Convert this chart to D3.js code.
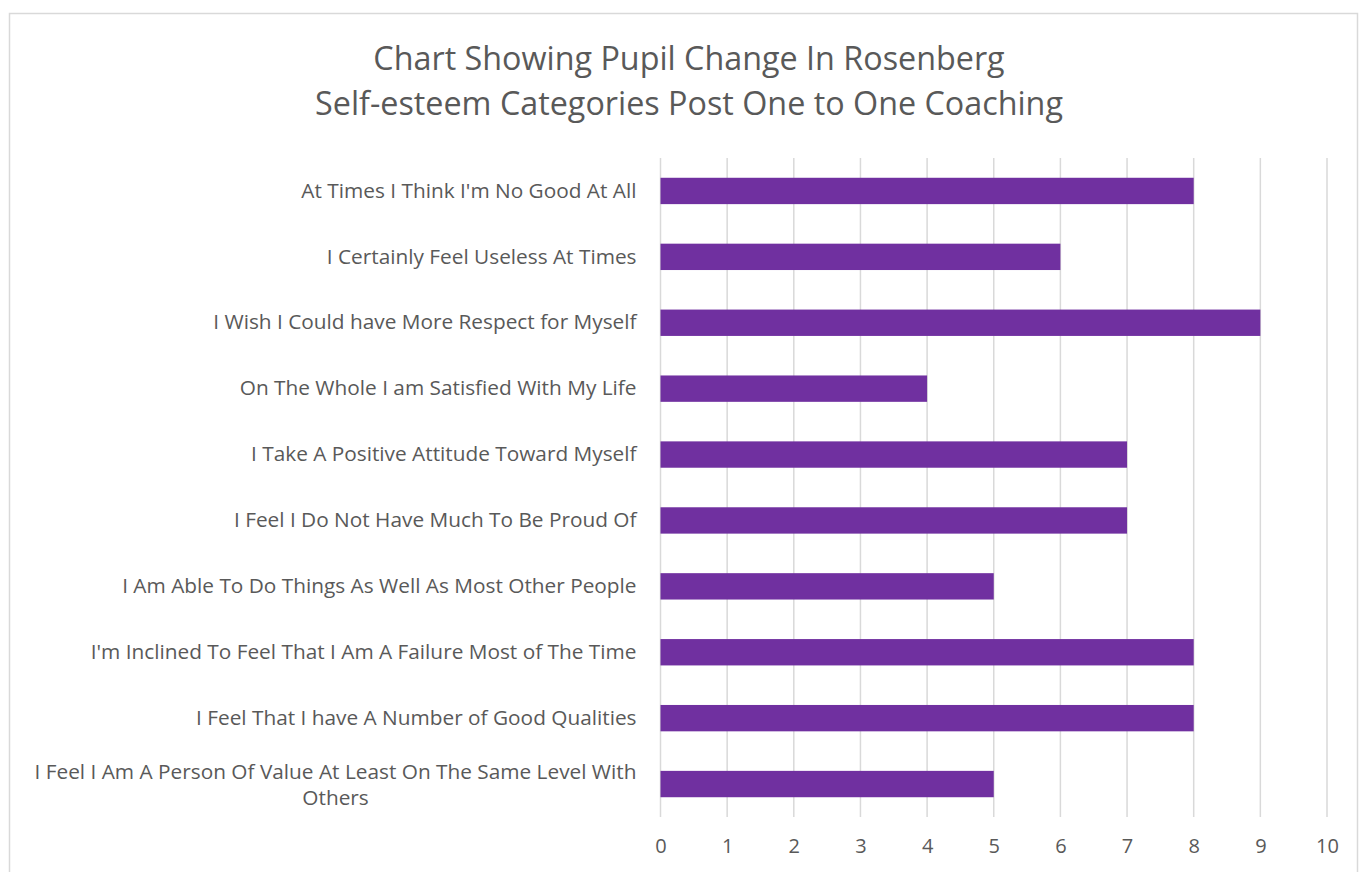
<!DOCTYPE html>
<html>
<head>
<meta charset="utf-8">
<script src="https://cdn.jsdelivr.net/npm/d3@7"></script>
<style>
  body { margin: 0; background: #fff; }
  svg { display: block; font-family: "Open Sans", sans-serif; }
</style>
</head>
<body>
<div id="chart"></div>
<script>
const categories = [
  "At Times I Think I'm No Good At All",
  "I Certainly Feel Useless At Times",
  "I Wish I Could have More Respect for Myself",
  "On The Whole I am Satisfied With My Life",
  "I Take A Positive Attitude Toward Myself",
  "I Feel I Do Not Have Much To Be Proud Of",
  "I Am Able To Do Things As Well As Most Other People",
  "I'm Inclined To Feel That I Am A Failure Most of The Time",
  "I Feel That I have A Number of Good Qualities",
  "I Feel I Am A Person Of Value At Least On The Same Level With Others"
];
const values = [8, 6, 9, 4, 7, 7, 5, 8, 8, 5];
const xTicks = [0, 1, 2, 3, 4, 5, 6, 7, 8, 9, 10];
const titleLines = [
  "Chart Showing Pupil Change In Rosenberg",
  "Self-esteem Categories Post One to One Coaching"
];

const width = 1359;
const height = 872;
const margin = { top: 158, right: 32, bottom: 55, left: 660.5 };
const innerWidth = 1327 - margin.left;
const innerHeight = 817 - margin.top;

const data = categories.map((c, i) => ({ label: c, value: values[i] }));

const svg = d3.select('#chart')
  .append('svg')
  .attr('width', width)
  .attr('height', height);

// chart border: left, top and right edges (bottom is off the page)
svg.append('path')
  .attr('d', `M9.5,${height}V13.5H1357.5V${height}`)
  .attr('fill', 'none')
  .attr('stroke', '#d9d9d9')
  .attr('stroke-width', 1.5);

svg.append('text')
  .attr('x', 689)
  .attr('text-anchor', 'middle')
  .attr('font-size', '32.3px')
  .attr('fill', '#595959')
  .selectAll('tspan')
  .data(titleLines)
  .enter()
  .append('tspan')
  .attr('x', 689)
  .attr('y', (d, i) => 70 + i * 45)
  .text(d => d);

const g = svg.append('g')
  .attr('transform', `translate(${margin.left},${margin.top})`);

const xScale = d3.scaleLinear()
  .domain([0, 10])
  .range([0, innerWidth]);

const yScale = d3.scaleBand()
  .domain(categories)
  .range([0, innerHeight])
  .paddingInner(0.6)
  .paddingOuter(0.3);

// vertical gridlines
g.selectAll('.grid')
  .data(xTicks)
  .enter()
  .append('line')
  .attr('x1', d => xScale(d))
  .attr('x2', d => xScale(d))
  .attr('y1', 0)
  .attr('y2', innerHeight)
  .attr('stroke', '#d9d9d9')
  .attr('stroke-width', 1.5);

g.selectAll('.bar')
  .data(data)
  .enter()
  .append('rect')
  .attr('class', 'bar')
  .attr('x', xScale(0))
  .attr('y', d => yScale(d.label))
  .attr('width', d => xScale(d.value) - xScale(0))
  .attr('height', yScale.bandwidth())
  .attr('fill', '#7030a0');

// x axis labels
const xAxis = g.append('g')
  .attr('transform', `translate(0,${innerHeight})`)
  .call(d3.axisBottom(xScale).tickValues(xTicks).tickSize(0).tickPadding(22));
xAxis.select('.domain').remove();
xAxis.selectAll('text')
  .attr('font-family', '"Open Sans", sans-serif')
  .attr('font-size', '20px')
  .attr('fill', '#595959');

// y axis labels (wrapped where too long)
const yAxis = g.append('g')
  .call(d3.axisLeft(yScale).tickSize(0).tickPadding(24));
yAxis.select('.domain').remove();
yAxis.selectAll('text')
  .attr('font-family', '"Open Sans", sans-serif')
  .attr('font-size', '20.8px')
  .attr('fill', '#595959')
  .each(function(d) {
    if (d.length < 64) return;
    const t = d3.select(this);
    const words = d.split(' ');
    const line1 = words.slice(0, -1).join(' ');
    const line2 = words[words.length - 1];
    t.text(null);
    const x = +t.attr('x');
    const a = t.append('tspan').attr('x', x).attr('dy', '-0.22em').text(line1);
    const w = a.node().getComputedTextLength();
    t.append('tspan')
      .attr('x', x - w / 2)
      .attr('dy', '1.22em')
      .attr('text-anchor', 'middle')
      .text(line2);
  });
</script>
</body>
</html>
